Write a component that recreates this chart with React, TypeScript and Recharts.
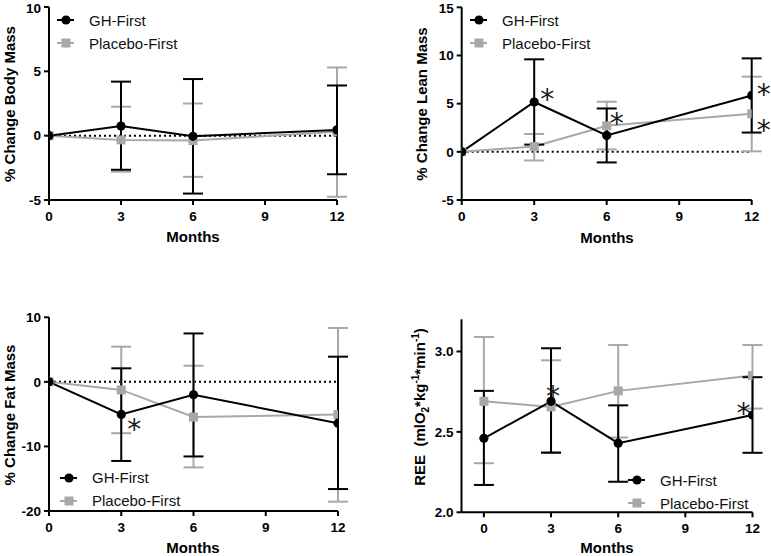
import React from "react";
import { LineChart, Line, XAxis, YAxis, ErrorBar, ReferenceLine, LabelList } from "recharts";

const MONTHS = [0, 3, 6, 12];

// % change body mass
const ghBody = [0, 0.75, -0.05, 0.45];
const ghBodyHi = [null, 4.2, 4.4, 3.9];
const ghBodyLo = [null, -2.65, -4.5, -3.0];
const pbBody = [0, -0.33, -0.38, 0.3];
const pbBodyHi = [null, 2.25, 2.5, 5.3];
const pbBodyLo = [null, -2.8, -3.2, -4.75];

// % change lean mass
const ghLean = [0, 5.17, 1.7, 5.85];
const ghLeanHi = [null, 9.6, 4.5, 9.7];
const ghLeanLo = [null, 0.75, -1.1, 2.0];
const pbLean = [0, 0.55, 2.7, 3.95];
const pbLeanHi = [null, 1.85, 5.2, 7.8];
const pbLeanLo = [null, -0.9, 0.25, 0.05];
const ghLeanSig = [false, true, false, true];
const pbLeanSig = [false, false, true, true];

// % change fat mass
const ghFat = [0, -5.05, -2.0, -6.4];
const ghFatHi = [null, 2.1, 7.5, 3.9];
const ghFatLo = [null, -12.25, -11.55, -16.6];
const pbFat = [0, -1.25, -5.45, -5.05];
const pbFatHi = [null, 5.45, 2.5, 8.35];
const pbFatLo = [null, -7.95, -13.25, -18.55];
const ghFatSig = [false, true, false, false];

// REE
const ghRee = [2.46, 2.69, 2.43, 2.605];
const ghReeHi = [2.755, 3.02, 2.665, 2.84];
const ghReeLo = [2.17, 2.37, 2.19, 2.37];
const pbRee = [2.69, 2.655, 2.755, 2.85];
const pbReeHi = [3.09, 2.945, 3.04, 3.04];
const pbReeLo = [2.305, 2.375, 2.465, 2.645];
const ghReeSig = [false, true, false, true];

const X_TICKS = [0, 3, 6, 9, 12];

const BLACK = "#000000";
const GREY = "#a8a8a8";
const FONT = "'Liberation Sans', Arial, sans-serif";

type Num = number | null;

function buildRows(
  gh: number[], ghHi: Num[], ghLo: Num[],
  pb: number[], pbHi: Num[], pbLo: Num[],
  ghSig: boolean[] = [], pbSig: boolean[] = [],
) {
  return MONTHS.map((m, i) => ({
    month: m,
    gh: gh[i],
    pb: pb[i],
    ghErr: ghHi[i] == null ? null : [gh[i] - (ghLo[i] as number), (ghHi[i] as number) - gh[i]],
    pbErr: pbHi[i] == null ? null : [pb[i] - (pbLo[i] as number), (pbHi[i] as number) - pb[i]],
    ghStar: ghSig[i] ? "*" : "",
    pbStar: pbSig[i] ? "*" : "",
  }));
}

const CircleDot = (p: any) =>
  p.cx == null ? null : <circle key={p.index} cx={p.cx} cy={p.cy} r={4.6} fill={BLACK} />;

const SquareDot = (p: any) =>
  p.cx == null ? null : <rect key={p.index} x={p.cx - 4.5} y={p.cy - 4.5} width={9} height={9} fill={GREY} />;

type Off = { dx: number; dy: number };

// significance marks, placed next to the flagged point
function starLabel(offsets: Record<number, Off>) {
  return (p: any) => {
    if (!p.value) return null;
    const o = offsets[p.index] || { dx: 12, dy: -8 };
    const fs = 28;
    return (
      <text
        key={p.index}
        x={p.x + o.dx}
        y={p.y + o.dy + fs * 0.56}
        textAnchor="middle"
        fontSize={fs}
        fontFamily="'DejaVu Sans', sans-serif"
        fill="#1a1a1a"
        stroke="none"
      >
        *
      </text>
    );
  };
}

interface PanelProps {
  left: number;
  top: number;
  width: number;
  height: number;
  margin: { top: number; right: number; bottom: number; left: number };
  rows: any[];
  xDomain: [number, number];
  yDomain: [number, number];
  yTicks: number[];
  yFmt?: (v: number) => string;
  zeroLine?: boolean;
  ghStars?: Record<number, Off>;
  pbStars?: Record<number, Off>;
}

function Panel(props: PanelProps) {
  const { left, top, width, height, margin, rows, xDomain, yDomain, yTicks, yFmt, zeroLine } = props;
  const tick = { fill: BLACK, fontSize: 13.5, fontWeight: 700, fontFamily: FONT };
  return (
    <div style={{ position: "absolute", left, top }}>
      <LineChart width={width} height={height} data={rows} margin={margin}>
        {zeroLine && (
          <ReferenceLine y={0} stroke={BLACK} strokeWidth={2} strokeDasharray="2 3" ifOverflow="extendDomain" />
        )}
        <XAxis
          dataKey="month"
          type="number"
          domain={xDomain}
          ticks={X_TICKS}
          allowDataOverflow
          height={30}
          tick={tick}
          tickSize={5}
          tickMargin={6}
          axisLine={{ stroke: BLACK, strokeWidth: 2 }}
          tickLine={{ stroke: BLACK, strokeWidth: 2 }}
        />
        <YAxis
          type="number"
          domain={yDomain}
          ticks={yTicks}
          allowDataOverflow
          width={40}
          tick={tick}
          tickSize={5}
          tickMargin={3}
          tickFormatter={yFmt}
          axisLine={{ stroke: BLACK, strokeWidth: 2 }}
          tickLine={{ stroke: BLACK, strokeWidth: 2 }}
        />
        <Line
          dataKey="pb"
          type="linear"
          stroke={GREY}
          strokeWidth={2}
          dot={SquareDot}
          activeDot={false}
          isAnimationActive={false}
        >
          <ErrorBar dataKey="pbErr" width={10} stroke={GREY} strokeWidth={2} direction="y" isAnimationActive={false} />
          {props.pbStars && <LabelList dataKey="pbStar" content={starLabel(props.pbStars)} />}
        </Line>
        <Line
          dataKey="gh"
          type="linear"
          stroke={BLACK}
          strokeWidth={2}
          dot={CircleDot}
          activeDot={false}
          isAnimationActive={false}
        >
          <ErrorBar dataKey="ghErr" width={10} stroke={BLACK} strokeWidth={2} direction="y" isAnimationActive={false} />
          {props.ghStars && <LabelList dataKey="ghStar" content={starLabel(props.ghStars)} />}
        </Line>
      </LineChart>
    </div>
  );
}

function Legend2({ left, top }: { left: number; top: number }) {
  const row = { display: "flex", alignItems: "center", height: 23 } as const;
  return (
    <div style={{ position: "absolute", left, top, fontFamily: FONT, fontSize: 15, color: "#111" }}>
      <div style={row}>
        <svg width={32} height={12}>
          <line x1={0} x2={17} y1={6} y2={6} stroke={BLACK} strokeWidth={2} />
          <circle cx={9} cy={6} r={4.6} fill={BLACK} />
        </svg>
        <span>GH-First</span>
      </div>
      <div style={row}>
        <svg width={32} height={12}>
          <line x1={0} x2={17} y1={6} y2={6} stroke={GREY} strokeWidth={2} />
          <rect x={4.5} y={1.5} width={9} height={9} fill={GREY} />
        </svg>
        <span>Placebo-First</span>
      </div>
    </div>
  );
}

function YTitle({ x, y, children }: { x: number; y: number; children: React.ReactNode }) {
  return (
    <div
      style={{
        position: "absolute",
        left: x,
        top: y,
        transform: "translate(-50%, -50%) rotate(-90deg)",
        whiteSpace: "nowrap",
        fontFamily: FONT,
        fontWeight: 700,
        fontSize: 15,
        color: BLACK,
      }}
    >
      {children}
    </div>
  );
}

function XTitle({ x, y }: { x: number; y: number }) {
  return (
    <div
      style={{
        position: "absolute",
        left: x,
        top: y,
        transform: "translate(-50%, -50%)",
        fontFamily: FONT,
        fontWeight: 700,
        fontSize: 15,
        color: BLACK,
      }}
    >
      Months
    </div>
  );
}

export default function App() {
  const bodyRows = buildRows(ghBody, ghBodyHi, ghBodyLo, pbBody, pbBodyHi, pbBodyLo);
  const leanRows = buildRows(ghLean, ghLeanHi, ghLeanLo, pbLean, pbLeanHi, pbLeanLo, ghLeanSig, pbLeanSig);
  const fatRows = buildRows(ghFat, ghFatHi, ghFatLo, pbFat, pbFatHi, pbFatLo, ghFatSig);
  const reeRows = buildRows(ghRee, ghReeHi, ghReeLo, pbRee, pbReeHi, pbReeLo, ghReeSig);

  return (
    <div style={{ position: "absolute", left: 0, top: 0, width: 771, height: 556, background: "#fff", overflow: "hidden" }}>
      {/* top left: body mass */}
      <Panel
        left={0} top={0} width={385} height={280}
        margin={{ top: 7, right: 48, bottom: 50, left: 9 }}
        rows={bodyRows}
        xDomain={[0, 12]} yDomain={[-5, 10]} yTicks={[-5, 0, 5, 10]}
        zeroLine
      />
      <YTitle x={9} y={104}>% Change Body Mass</YTitle>
      <XTitle x={193} y={236} />
      <Legend2 left={57} top={8.5} />

      {/* top right: lean mass */}
      <Panel
        left={385} top={0} width={386} height={280}
        margin={{ top: 7.3, right: 19.3, bottom: 50, left: 36.7 }}
        rows={leanRows}
        xDomain={[0, 12]} yDomain={[-5, 15]} yTicks={[-5, 0, 5, 10, 15]}
        zeroLine
        ghStars={{ 1: { dx: 13, dy: -9 }, 3: { dx: 12, dy: -7 } }}
        pbStars={{ 2: { dx: 10, dy: -8 }, 3: { dx: 12, dy: 11 } }}
      />
      <YTitle x={421} y={104}>% Change Lean Mass</YTitle>
      <XTitle x={607} y={237} />
      <Legend2 left={470} top={8.5} />

      {/* bottom left: fat mass */}
      <Panel
        left={0} top={290} width={385} height={266}
        margin={{ top: 27.3, right: 47, bottom: 15, left: 9 }}
        rows={fatRows}
        xDomain={[0, 12]} yDomain={[-20, 10]} yTicks={[-20, -10, 0, 10]}
        zeroLine
        ghStars={{ 1: { dx: 13, dy: 9 } }}
      />
      <YTitle x={9} y={415}>% Change Fat Mass</YTitle>
      <XTitle x={193} y={547} />
      <Legend2 left={60} top={466} />

      {/* bottom right: REE */}
      <Panel
        left={385} top={290} width={386} height={266}
        margin={{ top: 29.3, right: 18.5, bottom: 13.7, left: 36.5 }}
        rows={reeRows}
        xDomain={[-1, 12]} yDomain={[2.0, 3.2]} yTicks={[2.0, 2.5, 3.0]}
        yFmt={(v) => v.toFixed(1)}
        ghStars={{ 1: { dx: 2, dy: -11 }, 3: { dx: -9, dy: -8 } }}
      />
      <YTitle x={420} y={407}>
        REE&nbsp;&nbsp;(mlO<sub style={{ fontSize: 10 }}>2</sub>*kg<sup style={{ fontSize: 10 }}>-1</sup>*min
        <sup style={{ fontSize: 10 }}>-1</sup>)
      </YTitle>
      <XTitle x={607} y={547} />
      <Legend2 left={628} top={468.5} />
    </div>
  );
}
